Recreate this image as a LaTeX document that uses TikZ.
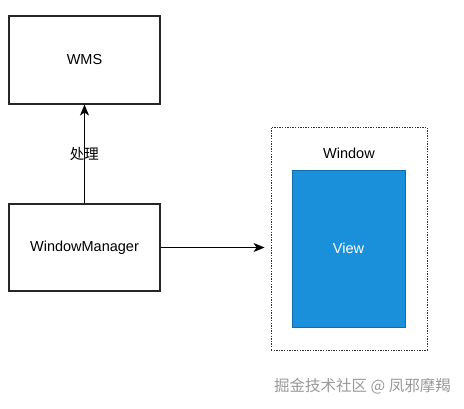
\documentclass[tikz,border=0pt]{standalone}
\usepackage{fontspec}
\setmainfont{Liberation Sans}
\newfontfamily\cjk{Noto Sans CJK SC}
\usetikzlibrary{arrows.meta,positioning}
\definecolor{viewblue}{HTML}{1A90DB}
\definecolor{viewedge}{HTML}{0F6FAE}
\tikzset{
    box/.style={
        draw=black!85,
        line width=1.1pt,
        fill=white,
        minimum width=151pt,
        minimum height=88pt,
        align=center
    },
    container/.style={
        draw=black!80,
        line width=0.9pt,
        dash pattern=on 1.4pt off 1.2pt,
        minimum width=156pt,
        minimum height=223pt
    },
    viewbox/.style={
        draw=viewedge,
        line width=1pt,
        fill=viewblue,
        text=white,
        minimum width=113pt,
        minimum height=157pt
    }
}

\begin{document}
\begin{tikzpicture}[x=1pt, y=-1pt, font=\fontsize{14.5}{17}\selectfont,
    >={Stealth[length=11pt,width=9pt,inset=3pt]}]
    \useasboundingbox (0,0) rectangle (464,408);

    % caixas da esquerda
    \node[box] (WMS) at (84.5,60) {WMS};
    \node[box, minimum height=87pt] (WM) at (84.5,247.5) {WindowManager};

    % janela e view
    \node[container] (Win) at (349,238.5) {};
    \node (WinLabel) at (349,153) {Window};
    \node[viewbox] (View) at (348.5,248.5) {View};
    \coordinate (WinIn) at (Win.west |- WM.east);

    % setas
    \path[->, line width=1.1pt] (WM) edge node[midway, anchor=center] {\cjk 处理} (WMS)
              (WM) edge [shorten >=6pt] (WinIn);

    % marca d'agua
    \node[text=black!40, font=\cjk\fontsize{15.5}{18}\selectfont] (mark) at (362.5,386) {掘金技术社区 @ 凤邪摩羯};

\end{tikzpicture}
\end{document}
